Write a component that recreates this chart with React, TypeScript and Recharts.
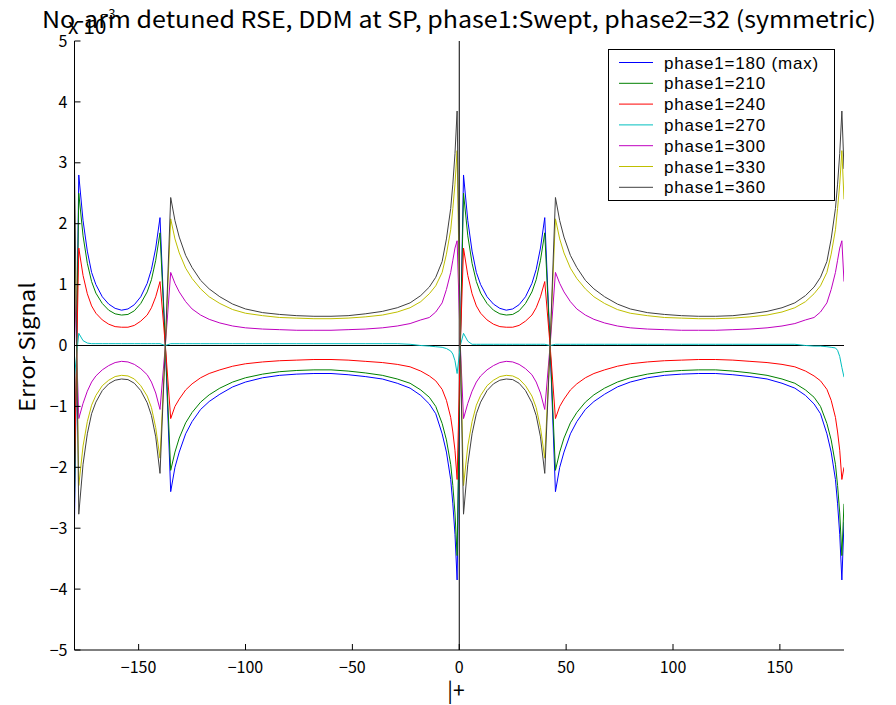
import { LineChart, Line, XAxis, YAxis, ReferenceLine, Legend } from 'recharts';

// x samples (degrees); denser near the resonances at -137.5, 0.5, 42.5 and the edges
const X_DEG = [
    -180,
    -178, -176, -174, -172, -170, -167, -164, -161, -158, -155, -152, -149, -146, -144, -142, -140,
    -137.5,
    -135, -133, -131, -128, -125, -121, -117, -112, -106, -100, -92, -84, -76, -68, -60, -52, -44, -36, -29, -23, -18, -14, -11, -8, -6, -4, -3, -2, -1,
    0.5,
    2, 4, 6, 8, 10, 13, 16, 19, 22, 25, 28, 31, 34, 36, 38, 40,
    42.5,
    45, 47, 49, 52, 55, 59, 63, 68, 74, 80, 88, 96, 104, 112, 120, 128, 136, 144, 151, 157, 162, 166, 169, 172, 174, 176, 177, 178, 179,
    180,
];

// error signal values, units of 1e-3
const P180 = [
    -2.9,
    2.8, 2.05, 1.55, 1.2, 1.0, 0.8, 0.68, 0.61, 0.58, 0.6, 0.67, 0.8, 1.02, 1.25, 1.6, 2.1,
    0,
    -2.4, -2.0, -1.75, -1.45, -1.25, -1.05, -0.92, -0.8, -0.68, -0.6, -0.53, -0.49, -0.47, -0.46, -0.46, -0.48, -0.51, -0.55, -0.62, -0.7, -0.82, -0.96, -1.12, -1.45, -1.75, -2.2, -2.6, -3.1, -3.85,
    0,
    2.8, 2.05, 1.55, 1.2, 1.0, 0.8, 0.68, 0.61, 0.58, 0.6, 0.67, 0.8, 1.02, 1.25, 1.6, 2.1,
    0,
    -2.4, -2.0, -1.75, -1.45, -1.25, -1.05, -0.92, -0.8, -0.68, -0.6, -0.53, -0.49, -0.47, -0.46, -0.46, -0.48, -0.51, -0.55, -0.62, -0.7, -0.82, -0.96, -1.12, -1.45, -1.75, -2.2, -2.6, -3.1, -3.85,
    -2.9,
];
const P210 = [
    -2.6,
    2.5, 1.8, 1.35, 1.05, 0.86, 0.69, 0.58, 0.52, 0.5, 0.51, 0.57, 0.69, 0.88, 1.08, 1.4, 1.85,
    0,
    -2.05, -1.75, -1.52, -1.27, -1.1, -0.93, -0.81, -0.7, -0.6, -0.53, -0.47, -0.43, -0.41, -0.4, -0.4, -0.42, -0.45, -0.49, -0.55, -0.62, -0.73, -0.85, -1.0, -1.28, -1.55, -1.95, -2.3, -2.75, -3.45,
    0,
    2.5, 1.8, 1.35, 1.05, 0.86, 0.69, 0.58, 0.52, 0.5, 0.51, 0.57, 0.69, 0.88, 1.08, 1.4, 1.85,
    0,
    -2.05, -1.75, -1.52, -1.27, -1.1, -0.93, -0.81, -0.7, -0.6, -0.53, -0.47, -0.43, -0.41, -0.4, -0.4, -0.42, -0.45, -0.49, -0.55, -0.62, -0.73, -0.85, -1.0, -1.28, -1.55, -1.95, -2.3, -2.75, -3.45,
    -2.6,
];
const P240 = [
    -2.0,
    1.6, 1.15, 0.85, 0.65, 0.53, 0.42, 0.35, 0.31, 0.3, 0.3, 0.33, 0.4, 0.5, 0.62, 0.8, 1.05,
    0,
    -1.2, -1.0, -0.88, -0.73, -0.63, -0.53, -0.46, -0.4, -0.34, -0.3, -0.27, -0.25, -0.24, -0.23, -0.23, -0.24, -0.26, -0.28, -0.31, -0.35, -0.42, -0.5, -0.58, -0.72, -0.9, -1.18, -1.42, -1.72, -2.2,
    0,
    1.6, 1.15, 0.85, 0.65, 0.53, 0.42, 0.35, 0.31, 0.3, 0.3, 0.33, 0.4, 0.5, 0.62, 0.8, 1.05,
    0,
    -1.2, -1.0, -0.88, -0.73, -0.63, -0.53, -0.46, -0.4, -0.34, -0.3, -0.27, -0.25, -0.24, -0.23, -0.23, -0.24, -0.26, -0.28, -0.31, -0.35, -0.42, -0.5, -0.58, -0.72, -0.9, -1.18, -1.42, -1.72, -2.2,
    -2.0,
];
const P270 = [
    -0.5,
    0.2, 0.08, 0.04, 0.03, 0.03, 0.03, 0.03, 0.03, 0.03, 0.03, 0.03, 0.03, 0.03, 0.03, 0.03, 0.03,
    0,
    0.03, 0.03, 0.03, 0.03, 0.03, 0.03, 0.03, 0.03, 0.03, 0.03, 0.03, 0.03, 0.03, 0.03, 0.03, 0.03, 0.03, 0.03, 0.03, 0.02, 0.0, -0.01, -0.02, -0.03, -0.05, -0.09, -0.14, -0.25, -0.46,
    0,
    0.2, 0.07, 0.02, 0.02, 0.02, 0.02, 0.02, 0.02, 0.02, 0.02, 0.02, 0.02, 0.02, 0.02, 0.02, 0.02,
    0,
    0.02, 0.02, 0.02, 0.02, 0.02, 0.02, 0.02, 0.02, 0.02, 0.02, 0.02, 0.02, 0.02, 0.02, 0.02, 0.02, 0.02, 0.02, 0.02, 0.02, 0.0, -0.01, -0.01, -0.02, -0.03, -0.04, -0.08, -0.18, -0.36,
    -0.52,
];
const P300 = [
    1.05,
    -1.2, -0.95, -0.75, -0.6, -0.5, -0.4, -0.33, -0.28, -0.26, -0.27, -0.31, -0.38, -0.48, -0.6, -0.78, -1.05,
    0,
    1.2, 1.02, 0.88, 0.72, 0.6, 0.5, 0.43, 0.37, 0.32, 0.29, 0.27, 0.26, 0.25, 0.25, 0.25, 0.26, 0.27, 0.29, 0.32, 0.36, 0.42, 0.46, 0.55, 0.7, 0.92, 1.2, 1.4, 1.6, 1.72,
    0,
    -1.2, -0.95, -0.75, -0.6, -0.5, -0.4, -0.33, -0.28, -0.26, -0.27, -0.31, -0.38, -0.48, -0.6, -0.78, -1.05,
    0,
    1.2, 1.02, 0.88, 0.72, 0.6, 0.5, 0.43, 0.37, 0.32, 0.29, 0.27, 0.26, 0.25, 0.25, 0.25, 0.26, 0.27, 0.29, 0.32, 0.36, 0.42, 0.46, 0.55, 0.7, 0.92, 1.2, 1.4, 1.6, 1.72,
    1.05,
];
const P330 = [
    2.4,
    -2.3, -1.65, -1.25, -0.98, -0.82, -0.66, -0.57, -0.51, -0.49, -0.5, -0.55, -0.66, -0.83, -1.02, -1.35, -1.85,
    0,
    2.08, 1.75, 1.52, 1.27, 1.1, 0.93, 0.8, 0.69, 0.59, 0.53, 0.49, 0.46, 0.45, 0.44, 0.44, 0.45, 0.47, 0.5, 0.55, 0.62, 0.72, 0.85, 0.98, 1.2, 1.5, 1.9, 2.25, 2.65, 3.2,
    0,
    -2.3, -1.65, -1.25, -0.98, -0.82, -0.66, -0.57, -0.51, -0.49, -0.5, -0.55, -0.66, -0.83, -1.02, -1.35, -1.85,
    0,
    2.08, 1.75, 1.52, 1.27, 1.1, 0.93, 0.8, 0.69, 0.59, 0.53, 0.49, 0.46, 0.45, 0.44, 0.44, 0.45, 0.47, 0.5, 0.55, 0.62, 0.72, 0.85, 0.98, 1.2, 1.5, 1.9, 2.25, 2.65, 3.2,
    2.4,
];
const P360 = [
    2.9,
    -2.77, -1.95, -1.45, -1.12, -0.93, -0.74, -0.63, -0.57, -0.55, -0.56, -0.62, -0.74, -0.94, -1.15, -1.5, -2.1,
    0,
    2.43, 2.05, 1.78, 1.48, 1.28, 1.07, 0.93, 0.8, 0.68, 0.6, 0.54, 0.51, 0.49, 0.48, 0.48, 0.49, 0.52, 0.56, 0.62, 0.7, 0.82, 0.96, 1.12, 1.38, 1.75, 2.25, 2.65, 3.15, 3.85,
    0,
    -2.77, -1.95, -1.45, -1.12, -0.93, -0.74, -0.63, -0.57, -0.55, -0.56, -0.62, -0.74, -0.94, -1.15, -1.5, -2.1,
    0,
    2.43, 2.05, 1.78, 1.48, 1.28, 1.07, 0.93, 0.8, 0.68, 0.6, 0.54, 0.51, 0.49, 0.48, 0.48, 0.49, 0.52, 0.56, 0.62, 0.7, 0.82, 0.96, 1.12, 1.38, 1.75, 2.25, 2.65, 3.15, 3.85,
    2.9,
];

const SERIES = [
    { key: 'p180', name: 'phase1=180 (max)', color: '#0000ff', values: P180 },
    { key: 'p210', name: 'phase1=210', color: '#008000', values: P210 },
    { key: 'p240', name: 'phase1=240', color: '#ff0000', values: P240 },
    { key: 'p270', name: 'phase1=270', color: '#00bfbf', values: P270 },
    { key: 'p300', name: 'phase1=300', color: '#bf00bf', values: P300 },
    { key: 'p330', name: 'phase1=330', color: '#bfbf00', values: P330 },
    { key: 'p360', name: 'phase1=360', color: '#404040', values: P360 },
];

const X_TICKS = [-150, -100, -50, 0, 50, 100, 150];
const Y_TICKS = [-5, -4, -3, -2, -1, 0, 1, 2, 3, 4, 5];

const FONT = '"Noto Sans CJK JP", "Noto Sans", sans-serif';
const LEGEND_FONT = '"Liberation Sans", Arial, sans-serif';

const data = X_DEG.map((x, i) => {
    const row: Record<string, number> = { x };
    SERIES.forEach(s => { row[s.key] = s.values[i]; });
    return row;
});

const tickStyle = { fill: '#000', fontSize: 16, fontFamily: FONT };
const fmtTick = (v: number) => String(v).replace('-', '\u2212');

function BoxLegend({ payload }: any) {
    const items = payload || [];
    return (
        <svg width={228} height={153} style={{ display: 'block' }}>
            <rect x={0.5} y={0.5} width={226} height={151} fill="#fff" stroke="#000" />
            {items.map((p: any, i: number) => {
                const y = 13.5 + i * 20.8;
                return (
                    <g key={`leg-${i}`}>
                        <line x1={11} x2={45} y1={y} y2={y} stroke={p.color} strokeWidth={1} />
                        <text x={56} y={y + 6} fontSize={17} letterSpacing={0.8} fontFamily={LEGEND_FONT} fill="#000">{p.value}</text>
                    </g>
                );
            })}
        </svg>
    );
}

export default function App() {
    return (
        <div style={{ position: 'absolute', left: 0, top: 0, width: 896, height: 705, background: '#fff' }}>
            <LineChart width={896} height={705} data={data} margin={{ top: 41, right: 52, bottom: 25, left: 0 }}>
                <XAxis dataKey="x" type="number" domain={[-180, 180]} ticks={X_TICKS} allowDataOverflow
                    height={30} tickSize={-6} tickMargin={18} tick={tickStyle} tickFormatter={fmtTick}
                    stroke="#000" axisLine={{ stroke: '#000' }} tickLine={{ stroke: '#000' }} />
                <XAxis xAxisId="top" orientation="top" dataKey="x" type="number" domain={[-180, 180]} ticks={X_TICKS}
                    allowDataOverflow height={0} tickSize={-6} tick={false} stroke="#000" />
                <YAxis type="number" domain={[-5, 5]} ticks={Y_TICKS} allowDataOverflow width={74.5}
                    tickSize={-6} tickMargin={13} tick={tickStyle} tickFormatter={fmtTick} stroke="#000" />
                <YAxis yAxisId="right" orientation="right" type="number" domain={[-5, 5]} ticks={Y_TICKS}
                    allowDataOverflow width={0} tickSize={-6} tick={false} stroke="#000" />
                <ReferenceLine y={0} stroke="#000" strokeWidth={1} />
                <ReferenceLine x={0} stroke="#000" strokeWidth={1} />
                {SERIES.map(s => (
                    <Line key={s.key} dataKey={s.key} name={s.name} stroke={s.color} strokeWidth={1}
                        dot={false} type="linear" isAnimationActive={false} />
                ))}
                <Legend layout="vertical" align="center" verticalAlign="middle" content={BoxLegend}
                    wrapperStyle={{ left: 608, top: 49, width: 228, height: 153 }} />
            </LineChart>
            <svg width={896} height={705} style={{ position: 'absolute', left: 0, top: 0, pointerEvents: 'none' }}>
                <text x={42} y={28} textLength={834} lengthAdjust="spacingAndGlyphs" fontSize={23} fontFamily={FONT} fill="#000">
                    No-arm detuned RSE, DDM at SP, phase1:Swept, phase2=32 (symmetric)
                </text>
                <text x={68} y={34} fontSize={21} fontFamily={FONT} fill="#000">x 10</text>
                <text x={101} y={19} fontSize={13} fontFamily={FONT} fill="#000">{'\u22123'}</text>
                <text x={0} y={0} transform="translate(35,347) rotate(-90)" textAnchor="middle" textLength={130}
                    lengthAdjust="spacingAndGlyphs" fontSize={21} fontFamily={FONT} fill="#000">Error Signal</text>
                <text x={456} y={698} textAnchor="middle" fontSize={21} fontFamily={FONT} fill="#000">|+</text>
            </svg>
        </div>
    );
}
